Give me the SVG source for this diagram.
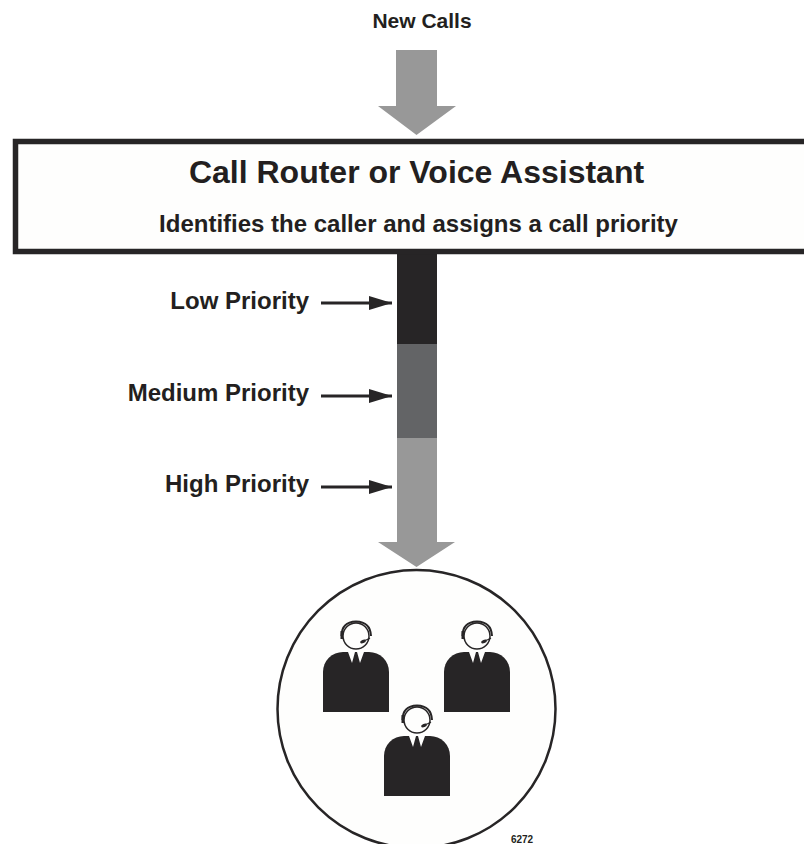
<svg xmlns="http://www.w3.org/2000/svg" width="804" height="844" viewBox="0 0 804 844">
<style>
text{font-family:"Liberation Sans",Arial,sans-serif;font-weight:bold;fill:#231f20}
.l{font-size:24px;text-anchor:end}
.hl{fill:none;stroke:#272526;stroke-width:2}
.ar{stroke:#272526;stroke-width:3;fill:none;marker-end:url(#a)}
</style>
<defs>
<marker id="a" markerUnits="userSpaceOnUse" markerWidth="24" markerHeight="16" refX="23" refY="7" orient="auto"><path d="M0 0L23 7L0 14Z" fill="#272526"/></marker>
<g id="person">
<path d="M-33 76V36A20 20 0 0 1 -13 16H13A20 20 0 0 1 33 36V76Z" fill="#272526"/>
<path d="M-8 16H-1L-4 27ZM8 16H1L4 27Z" fill="#fefefd"/>
<circle cx="0" cy="0" r="13" fill="#fefefd" stroke="#272526" stroke-width="1.500"/>
<path class="hl" d="M-14.500 0Q-14.500 -14 0 -14.500Q14.500 -14 15 0"/>
<path d="M-15.500 -5h2.500v8h-2.500z" fill="#272526"/>
<path d="M14 2Q11 4 7 5" fill="none" stroke="#272526" stroke-width="1.200"/>
<ellipse cx="7" cy="5.500" rx="3" ry="1.700" fill="#272526" transform="rotate(-20 7 5.500)"/>
</g>
</defs>
<rect width="804" height="844" fill="#fff"/>
<g id="connectors">
<path id="new-calls-arrow" d="M396 50H437V106H456L416.500 135L378 106H396Z" fill="#989898"/>
<g id="flow">
<rect x="397" y="254" width="40" height="91" fill="#272526"/>
<rect x="397" y="344" width="40" height="94" fill="#636466"/>
<path d="M397 438H437V542H455L416.500 567L378 542H397Z" fill="#989898"/>
</g>
<path class="ar" d="M321 303H392"/>
<path class="ar" d="M321 396H392"/>
<path class="ar" d="M321 487H392"/>
</g>
<g id="new-calls"><text x="422" y="28" font-size="21" text-anchor="middle">New Calls</text></g>
<g id="router">
<rect x="15.500" y="141.500" width="800" height="110" fill="#fefefd" stroke="#272526" stroke-width="5.500"/>
<text x="416.500" y="183" font-size="32" text-anchor="middle">Call Router or Voice Assistant</text>
<text x="418.500" y="232" font-size="24" text-anchor="middle">Identifies the caller and assigns a call priority</text>
</g>
<g id="low"><text class="l" x="309" y="309">Low Priority</text></g>
<g id="medium"><text class="l" x="309" y="401">Medium Priority</text></g>
<g id="high"><text class="l" x="309" y="492">High Priority</text></g>
<g id="agents">
<circle cx="416.500" cy="709" r="139" fill="#fefefd" stroke="#272526" stroke-width="2.500"/>
<use href="#person" x="356" y="636"/>
<use href="#person" x="477" y="636"/>
<use href="#person" x="417" y="720"/>
<text x="522" y="843" font-size="10" text-anchor="middle">6272</text>
</g>
</svg>
